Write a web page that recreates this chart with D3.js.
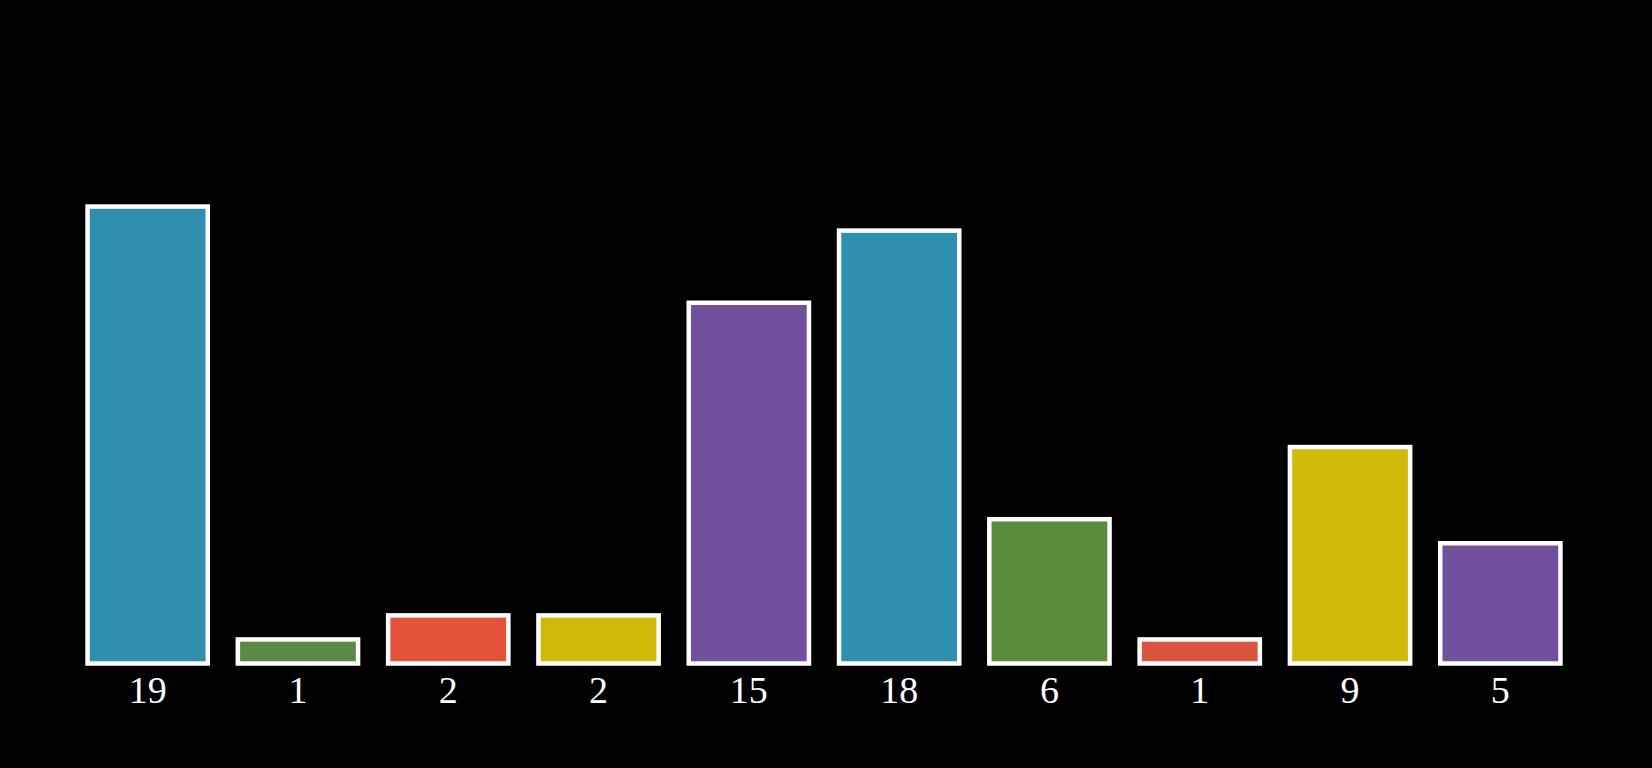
<!DOCTYPE html>
<html>
<head>
<meta charset="utf-8">
<script src="https://cdn.jsdelivr.net/npm/d3@7"></script>
<style>
  html, body { margin: 0; padding: 0; background: #000; }
</style>
</head>
<body>
<script>
// data
let categories = ["a", "b", "c", "d", "e", "f", "g", "h", "i", "j"]
let values = [19, 1, 2, 2, 15, 18, 6, 1, 9, 5]
let barColors = ["#2f8fae", "#5a8a44", "#e2533a", "#d2b808", "#73509e",
                 "#2f8fae", "#5a8a3c", "#d9533f", "#d2b808", "#73509e"]

let width = 1652, height = 768

let svg = d3.select("body").append("svg")
    .attr("width", width)
    .attr("height", height)
    .style("background", "#000")

// Step 1: scales
let xScale = d3.scaleBand()
    .domain(categories)
    .range([65, 1583])
    .paddingInner(0.2)
    .paddingOuter(0.15)

let yScale = d3.scaleLinear()
    .domain([0, 25])
    .range([663.5, 663.5 - 25 * 24.05])

// Step 2: bars
svg.append("g")
    .selectAll("rect")
    .data(values)
    .enter()
    .append("rect")
      .attr("x", (d, i) => xScale(categories[i]))
      .attr("y", d => yScale(d))
      .attr("width", xScale.bandwidth())
      .attr("height", d => yScale(0) - yScale(d))
      .style("fill", (d, i) => barColors[i])
      .style("stroke", "#fff")
      .style("stroke-width", 4.5)

// Step 3: value labels under the bars
svg.append("g")
    .selectAll("text")
    .data(values)
    .enter()
    .append("text")
      .attr("x", (d, i) => xScale(categories[i]) + xScale.bandwidth() / 2)
      .attr("y", 703)
      .attr("text-anchor", "middle")
      .style("font-family", "'Liberation Serif', 'Times New Roman', serif")
      .style("font-size", "38px")
      .style("fill", "#fff")
      .text(d => d)
</script>
</body>
</html>
